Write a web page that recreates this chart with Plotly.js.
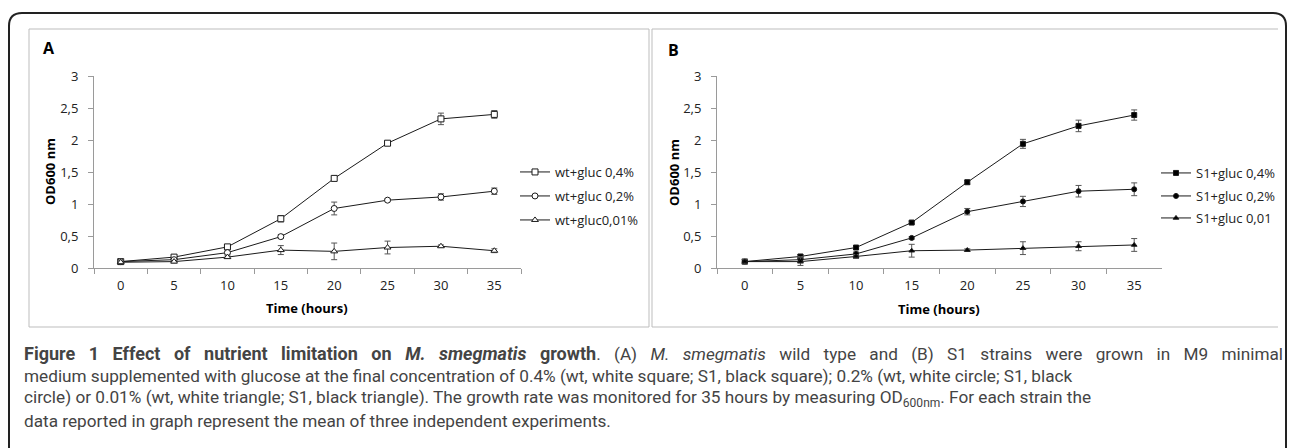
<!DOCTYPE html>
<html>
<head>
<meta charset="utf-8">
<script src="https://cdn.plot.ly/plotly-3.0.1.min.js"></script>
<style>
  html, body { margin: 0; padding: 0; background: #fff; }
  #chart { width: 1290px; height: 448px; }
</style>
</head>
<body>
<div id="chart"></div>
<script>
// ---- Data ----
const timeLabels = ['0', '5', '10', '15', '20', '25', '30', '35'];

// Panel A: M. smegmatis wild type
const wtNames = ['wt+gluc 0,4%', 'wt+gluc 0,2%', 'wt+gluc0,01%'];
const wtGluc04 = [0.10, 0.17, 0.33, 0.77, 1.40, 1.95, 2.33, 2.40];
const wtGluc04Err = [0.02, 0.02, 0.03, 0.05, 0.02, 0.03, 0.09, 0.06];
const wtGluc02 = [0.10, 0.13, 0.24, 0.49, 0.93, 1.06, 1.11, 1.20];
const wtGluc02Err = [0.02, 0.02, 0.02, 0.03, 0.10, 0.02, 0.05, 0.05];
const wtGluc001 = [0.09, 0.10, 0.17, 0.28, 0.26, 0.32, 0.34, 0.27];
const wtGluc001Err = [0.02, 0.02, 0.02, 0.07, 0.13, 0.10, 0.02, 0.03];

// Panel B: S1 strain
const s1Names = ['S1+gluc 0,4%', 'S1+gluc 0,2%', 'S1+gluc 0,01'];
const s1Gluc04 = [0.10, 0.18, 0.32, 0.71, 1.34, 1.94, 2.22, 2.39];
const s1Gluc04Err = [0.03, 0.03, 0.02, 0.02, 0.03, 0.07, 0.09, 0.08];
const s1Gluc02 = [0.10, 0.13, 0.22, 0.47, 0.88, 1.04, 1.20, 1.23];
const s1Gluc02Err = [0.03, 0.05, 0.03, 0.02, 0.05, 0.08, 0.09, 0.10];
const s1Gluc001 = [0.10, 0.10, 0.18, 0.27, 0.28, 0.31, 0.34, 0.36];
const s1Gluc001Err = [0.04, 0.06, 0.03, 0.10, 0.02, 0.10, 0.07, 0.10];

const yTitle = 'OD600 nm';
const xTitle = 'Time (hours)';
const captionLines = [
  '<span style="font-size:18px"><b>Figure 1 Effect of nutrient limitation on <i>M. smegmatis</i> growth</b></span>. (A) <i>M. smegmatis</i> wild type and (B) S1 strains were grown in M9 minimal',
  'medium supplemented with glucose at the final concentration of 0.4% (wt, white square; S1, black square); 0.2% (wt, white circle; S1, black',
  'circle) or 0.01% (wt, white triangle; S1, black triangle). The growth rate was monitored for 35 hours by measuring OD<sub>600nm</sub>. For each strain the',
  'data reported in graph represent the mean of three independent experiments.'
];

// ---- Helpers: pixel -> paper ----
const W = 1290, H = 448;
const px = v => v / W;
const py = v => 1 - v / H;

const CHART_FONT = 'Open Sans, Lato, sans-serif';
const CAPTION_FONT = 'Roboto, sans-serif';
const LINE_COLOR = '#1a1a1a';
const ERR_COLOR = '#555';

function mkTrace(y, err, name, xa, ya, legend, symbol, filled) {
  return {
    type: 'scatter', mode: 'lines+markers',
    x: timeLabels, y: y, name: name,
    xaxis: xa, yaxis: ya, legend: legend,
    line: { color: LINE_COLOR, width: 1 },
    marker: {
      symbol: symbol,
      size: filled ? 5 : 6,
      color: filled ? '#000' : '#fff',
      line: { color: LINE_COLOR, width: 1 }
    },
    error_y: { type: 'data', array: err, visible: true, color: ERR_COLOR, thickness: 1, width: 3 }
  };
}

const data = [
  mkTrace(wtGluc04, wtGluc04Err, wtNames[0], 'x', 'y', 'legend', 'square', false),
  mkTrace(wtGluc02, wtGluc02Err, wtNames[1], 'x', 'y', 'legend2', 'circle', false),
  mkTrace(wtGluc001, wtGluc001Err, wtNames[2], 'x', 'y', 'legend3', 'triangle-up', false),
  mkTrace(s1Gluc04, s1Gluc04Err, s1Names[0], 'x2', 'y2', 'legend4', 'square', true),
  mkTrace(s1Gluc02, s1Gluc02Err, s1Names[1], 'x2', 'y2', 'legend5', 'circle', true),
  mkTrace(s1Gluc001, s1Gluc001Err, s1Names[2], 'x2', 'y2', 'legend6', 'triangle-up', true)
];

const tickFont = { family: CHART_FONT, size: 13, color: '#222' };

function xAxis(domain, anchor) {
  return {
    domain: domain, anchor: anchor, type: 'category', range: [-0.5, 7.5],
    tickson: 'boundaries', ticks: 'outside', ticklen: 5, tickcolor: '#9a9a9a', tickwidth: 1,
    ticklabelstandoff: 5,
    showline: true, linecolor: '#9a9a9a', linewidth: 1,
    showgrid: false, zeroline: false, tickfont: tickFont, fixedrange: true
  };
}
function yAxis(domain, anchor) {
  return {
    domain: domain, anchor: anchor, range: [0, 3], dtick: 0.5, tick0: 0,
    ticks: 'outside', ticklen: 5, tickcolor: '#9a9a9a', tickwidth: 1,
    ticklabelstandoff: 7,
    showline: true, linecolor: '#9a9a9a', linewidth: 1,
    showgrid: false, zeroline: false, tickfont: tickFont, fixedrange: true
  };
}

function legendAt(xPx, yPx) {
  return {
    x: px(xPx), y: py(yPx), xanchor: 'left', yanchor: 'middle',
    bgcolor: 'rgba(0,0,0,0)', borderwidth: 0,
    font: { family: CHART_FONT, size: 13, color: '#222' },
    itemwidth: 30
  };
}

function label(text, xPx, yPx, size, angle) {
  return {
    text: text, xref: 'paper', yref: 'paper', x: px(xPx), y: py(yPx),
    xanchor: 'center', yanchor: 'middle', showarrow: false, textangle: angle || 0,
    font: { family: CHART_FONT, size: size, color: '#000' }
  };
}

const yDom = [py(268), py(76)];

const layout = {
  width: W, height: H,
  margin: { l: 0, r: 0, t: 0, b: 0 },
  paper_bgcolor: '#fff', plot_bgcolor: 'rgba(0,0,0,0)',
  separators: ', ',
  showlegend: true,
  xaxis: xAxis([px(94), px(521)], 'y'),
  yaxis: yAxis(yDom, 'x'),
  xaxis2: xAxis([px(717), px(1162)], 'y2'),
  yaxis2: yAxis(yDom, 'x2'),
  legend: legendAt(515, 172),
  legend2: legendAt(515, 196),
  legend3: legendAt(515, 220),
  legend4: legendAt(1156, 173),
  legend5: legendAt(1156, 196),
  legend6: legendAt(1156, 218),
  shapes: [
    // outer rounded frame
    { type: 'path', xref: 'paper', yref: 'paper',
      path: `M ${px(9)},${py(470)} L ${px(9)},${py(26)} Q ${px(9)},${py(13)} ${px(22)},${py(13)} L ${px(1273)},${py(13)} Q ${px(1286)},${py(13)} ${px(1286)},${py(26)} L ${px(1286)},${py(470)}`,
      line: { color: '#222', width: 2 } },
    // panel A box
    { type: 'rect', xref: 'paper', yref: 'paper', x0: px(29), x1: px(649), y0: py(327), y1: py(29),
      line: { color: '#bdbdbd', width: 1 } },
    // panel B box (no right edge)
    { type: 'path', xref: 'paper', yref: 'paper',
      path: `M ${px(1278)},${py(29)} L ${px(652)},${py(29)} L ${px(652)},${py(327)} L ${px(1278)},${py(327)}`,
      line: { color: '#bdbdbd', width: 1 } }
  ],
  annotations: [
    label('<b>A</b>', 49, 48, 16),
    label('<b>B</b>', 674, 50, 16),
    label('<b>' + yTitle + '</b>', 50, 172, 13, -90),
    label('<b>' + yTitle + '</b>', 674, 172, 13, -90),
    label('<b>' + xTitle + '</b>', 307, 308, 13),
    label('<b>' + xTitle + '</b>', 939, 309, 13)
  ].concat(captionLines.map((t, i) => ({
    text: t, xref: 'paper', yref: 'paper', x: px(22), y: py(353 + i * 22.8),
    xanchor: 'left', yanchor: 'middle', align: 'left', showarrow: false,
    font: { family: CAPTION_FONT, size: 17.2, color: '#444' }
  })))
};

Plotly.newPlot('chart', data, layout, { staticPlot: true, displayModeBar: false }).then(gd => {
  // Justify the first caption line (the reference paragraph is justified).
  const targetRight = 1281;
  const texts = gd.querySelectorAll('.annotation-text');
  texts.forEach(el => {
    const raw = el.getAttribute('data-unformatted') || '';
    if (raw === captionLines[0]) {
      const box = el.getBBox();
      const plain = raw.replace(/<[^>]+>/g, '');
      const spaces = (plain.match(/ /g) || []).length;
      const extra = (targetRight - 22 - box.width) / spaces;
      if (extra > 0) el.style.wordSpacing = extra.toFixed(2) + 'px';
    }
  });
});
</script>
</body>
</html>
